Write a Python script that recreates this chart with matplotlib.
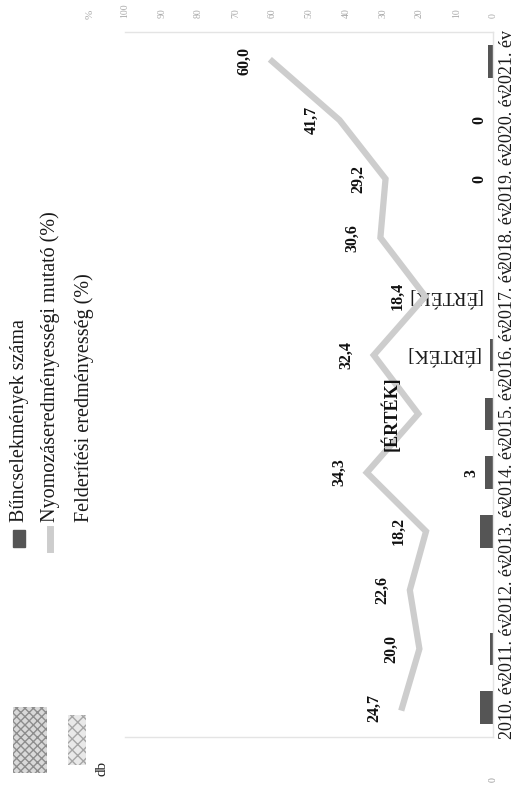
import matplotlib
matplotlib.use("Agg")
import matplotlib.pyplot as plt
from matplotlib.patches import Rectangle
from matplotlib.lines import Line2D
import numpy as np

# scanned chart, page turned 90 degrees: years run bottom -> top
years = ['2010. év', '2011. év', '2012. év', '2013. év', '2014. év', '2015. év',
         '2016. év', '2017. év', '2018. év', '2019. év', '2020. év', '2021. év']
bun_db = [5, 1, 0, 5, 3, 3, 1, 0, 0, 0, 0, 2]
bun_labels = ['', '', '', '', '3', '', '[ÉRTÉK]', '[ÉRTÉK]', '', '0', '0', '']
nyom_pct = [24.7, 20.0, 22.6, 18.2, 34.3, 20.3, 32.4, 18.4, 30.6, 29.2, 41.7, 60.0]
nyom_labels = ['24,7', '20,0', '22,6', '18,2', '34,3', '[ÉRTÉK]',
               '32,4', '18,4', '30,6', '29,2', '41,7', '60,0']
pct_ticks = [0, 10, 20, 30, 40, 50, 60, 70, 80, 90, 100]
legend_items = ['Bűncselekmények száma', 'Nyomozáseredményességi mutató (%)',
                'Felderítési eredményesség (%)']

serif = 'Liberation Serif'
W, H = 529, 794
fig = plt.figure(figsize=(W / 100, H / 100), dpi=100)

def px(x, y):
    return x / W, 1 - y / H

ax = fig.add_axes([125 / W, 1 - 737 / H, 368 / W, 705 / H])
y = np.arange(len(years))

ax.barh(y, bun_db, height=0.55, color='#555555')
ax.set_xlim(140, 0)
ax.set_ylim(-0.5, len(years) - 0.5)
ax.set_yticks(y)
ax.set_yticklabels(years, rotation=90, va='center', fontsize=13,
                   family=serif, color='#1a1a1a')
ax.yaxis.tick_right()
ax.tick_params(axis='y', length=0, pad=4)
ax.set_xticks([0])
ax.set_xticklabels(['0'], rotation=90, fontsize=7, color='#999999', family=serif)
ax.tick_params(axis='x', length=0, pad=29)
ax.spines['left'].set_visible(False)
for s in ['top', 'bottom', 'right']:
    ax.spines[s].set_color('#e4e4e4')
    ax.spines[s].set_linewidth(1.0)

for yi, v, lab in zip(y, bun_db, bun_labels):
    if not lab:
        continue
    if lab.startswith('['):
        ax.annotate(lab, (v, yi), xytext=(-8, 0), textcoords='offset points',
                    rotation=180, ha='right', va='center', fontsize=14,
                    family=serif, color='#1a1a1a')
    else:
        ax.annotate(lab, (v, yi), xytext=(-4, 0), textcoords='offset points',
                    rotation=90, ha='right', va='center', fontsize=11.5,
                    family=serif, fontweight='bold', color='#111111')

ax2 = ax.twiny()
ax2.set_xlim(100, 0)
ax2.plot(nyom_pct, y, color='#cdcdcd', lw=4.5, solid_joinstyle='miter')
ax2.set_xticks(pct_ticks)
ax2.set_xticklabels([str(t) for t in pct_ticks], rotation=90, fontsize=7,
                    color='#aaaaaa', family=serif)
ax2.tick_params(axis='x', length=0, pad=10)
for s in ax2.spines.values():
    s.set_visible(False)

for yi, v, lab in zip(y, nyom_pct, nyom_labels):
    ax2.annotate(lab, (v, yi), xytext=(-20, 0), textcoords='offset points',
                 rotation=90, ha='center', va='center',
                 fontsize=13 if lab.startswith('[') else 11.5,
                 family=serif, fontweight='bold', color='#111111')

# axis titles
fig.text(*px(90, 14), '%', rotation=90, ha='center', va='center',
         fontsize=8, color='#aaaaaa', family=serif)
fig.text(*px(102, 768), 'db', rotation=90, ha='center', va='center',
         fontsize=11, color='#222222', family=serif)

# faded blobs from the scan
fig.patches.append(Rectangle(px(13, 773), 34 / W, 66 / H, transform=fig.transFigure,
                             facecolor='#d0d0d0', edgecolor='#7a7a7a', hatch='xxxx',
                             lw=0, alpha=0.8))
fig.patches.append(Rectangle(px(68, 765), 18 / W, 50 / H, transform=fig.transFigure,
                             facecolor='#e0e0e0', edgecolor='#8a8a8a', hatch='xxx',
                             lw=0, alpha=0.7))

# legend, turned with the page
fig.patches.append(Rectangle(px(13, 547), 12 / W, 17 / H, transform=fig.transFigure,
                             color='#555555'))
fig.lines.append(Line2D([50 / W, 50 / W], [1 - 549 / H, 1 - 529 / H],
                        transform=fig.transFigure, color='#cdcdcd', lw=5))
for xl, txt in zip([20, 50, 84], legend_items):
    fig.text(*px(xl, 522), txt, rotation=90, ha='center', va='bottom',
             fontsize=14.5, family=serif, color='#1a1a1a')

fig.savefig('out.png', dpi=100)
